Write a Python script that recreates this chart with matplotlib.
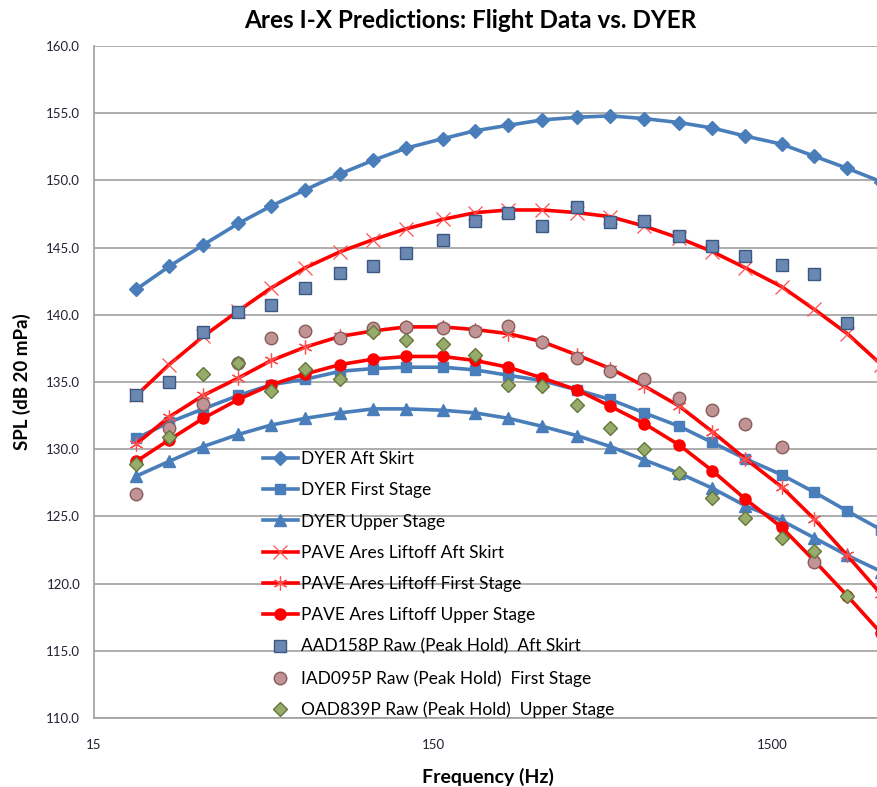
import matplotlib.pyplot as plt
from matplotlib.ticker import FixedLocator, FixedFormatter, NullLocator

plt.rcParams['font.family'] = ['Lato', 'DejaVu Sans']

# 1/3 octave band centre frequencies (Hz)
freq = [20, 25, 31.5, 40, 50, 63, 80, 100, 125, 160, 200, 250, 315, 400,
        500, 630, 800, 1000, 1250, 1600, 2000, 2500, 3150]

# DYER predictions
dyer_aft = [141.9, 143.6, 145.2, 146.8, 148.1, 149.3, 150.5, 151.5, 152.4, 153.1, 153.7, 154.1,
            154.5, 154.7, 154.8, 154.6, 154.3, 153.9, 153.3, 152.7, 151.8, 150.9, 149.9]
dyer_first = [130.8, 132.0, 133.0, 134.0, 134.8, 135.2, 135.8, 136.0, 136.1, 136.1, 135.9, 135.5,
              135.1, 134.4, 133.7, 132.7, 131.7, 130.5, 129.3, 128.1, 126.8, 125.4, 124.0]
dyer_upper = [128.0, 129.1, 130.2, 131.1, 131.8, 132.3, 132.7, 133.0, 133.0, 132.9, 132.7, 132.3,
              131.7, 131.0, 130.2, 129.2, 128.2, 127.1, 125.8, 124.7, 123.4, 122.1, 120.9]

# PAVE predictions
pave_aft = [134.0, 136.3, 138.4, 140.3, 142.0, 143.5, 144.7, 145.6, 146.4, 147.1, 147.6, 147.8,
            147.8, 147.6, 147.3, 146.6, 145.7, 144.7, 143.5, 142.1, 140.4, 138.6, 136.3]
pave_first = [130.4, 132.4, 134.0, 135.3, 136.6, 137.6, 138.4, 138.8, 139.1, 139.1, 138.9, 138.6,
              138.0, 137.0, 136.0, 134.7, 133.2, 131.3, 129.3, 127.2, 124.8, 122.1, 119.2]
pave_upper = [129.1, 130.7, 132.3, 133.7, 134.8, 135.6, 136.3, 136.7, 136.9, 136.9, 136.6, 136.1,
              135.3, 134.4, 133.2, 131.9, 130.3, 128.4, 126.3, 124.2, 121.7, 119.1, 116.3]

# flight data (peak hold)
aad158p = [134.0, 135.0, 138.7, 140.2, 140.7, 142.0, 143.1, 143.6, 144.6, 145.6, 147.0, 147.6,
           146.6, 148.0, 146.9, 147.0, 145.9, 145.1, 144.4, 143.7, 143.0, 139.4]
iad095p = [126.7, 131.6, 133.4, 136.4, 138.3, 138.8, 138.3, 139.0, 139.1, 139.0, 138.8, 139.2,
           138.0, 136.8, 135.8, 135.2, 133.8, 132.9, 131.9, 130.2, 121.6]
oad839p = [128.9, 130.9, 135.6, 136.4, 134.3, 136.0, 135.2, 138.7, 138.1, 137.8, 137.0, 134.8,
           134.7, 133.3, 131.6, 130.0, 128.2, 126.4, 124.9, 123.4, 122.4, 119.1]

x_ticks = [15, 150, 1500]
y_ticks = [110, 115, 120, 125, 130, 135, 140, 145, 150, 155, 160]

blue = '#4A7EBB'
red = '#FF0000'

fig = plt.figure(figsize=(8.78, 7.87), dpi=100)
ax = fig.add_axes([94 / 878, 1 - 718 / 787, 1 - 94 / 878, (718 - 46) / 787])

ax.plot(freq, dyer_aft, color=blue, lw=2.6, marker='D', ms=7, label='DYER Aft Skirt')
ax.plot(freq, dyer_first, color=blue, lw=2.6, marker='s', ms=7.5, label='DYER First Stage')
ax.plot(freq, dyer_upper, color=blue, lw=2.6, marker='^', ms=8, label='DYER Upper Stage')

ax.plot(freq, pave_aft, color=red, lw=2.6, marker='x', ms=10, mew=0.9, mec='#FF5050',
        label='PAVE Ares Liftoff Aft Skirt')
ax.plot(freq, pave_first, color=red, lw=2.6, marker=(6, 2, 0), ms=10, mew=0.9, mec='#FF5050',
        label='PAVE Ares Liftoff First Stage')
ax.plot(freq, pave_upper, color=red, lw=2.6, marker='o', ms=8, label='PAVE Ares Liftoff Upper Stage')

ax.plot(freq[:len(aad158p)], aad158p, ls='none', marker='s', ms=9, mfc='#6A88B2', mec='#3A5882',
        mew=1.0, label='AAD158P Raw (Peak Hold)  Aft Skirt')
ax.plot(freq[:len(iad095p)], iad095p, ls='none', marker='o', ms=9, mfc='#C09494', mec='#8A5C5C',
        mew=1.0, label='IAD095P Raw (Peak Hold)  First Stage')
ax.plot(freq[:len(oad839p)], oad839p, ls='none', marker='D', ms=7.5, mfc='#97AC6A', mec='#64783E',
        mew=1.0, label='OAD839P Raw (Peak Hold)  Upper Stage')

ax.set_xscale('log')
ax.set_xlim(15, 15 * 10 ** ((878 - 94) / 339))
ax.set_ylim(110, 160)
ax.xaxis.set_major_locator(FixedLocator(x_ticks))
ax.xaxis.set_major_formatter(FixedFormatter([str(t) for t in x_ticks]))
ax.xaxis.set_minor_locator(NullLocator())
ax.set_yticks(y_ticks)
ax.set_yticklabels([f'{t:.1f}' for t in y_ticks])
ax.tick_params(axis='both', length=0, labelsize=9.5, labelcolor='#222233')
ax.tick_params(axis='y', pad=10)
ax.tick_params(axis='x', pad=15)

ax.grid(axis='y', color='#A0A0A0', lw=1.2)
ax.set_axisbelow(True)
for side in ['top', 'right']:
    ax.spines[side].set_visible(False)
for side in ['left', 'bottom']:
    ax.spines[side].set_color('#A0A0A0')
    ax.spines[side].set_linewidth(1.2)

ax.set_xlabel('Frequency (Hz)', fontsize=14, fontweight='bold', va='center')
ax.xaxis.set_label_coords((488 - 94) / 784, (718 - 777) / 672)
ax.set_ylabel('SPL (dB 20 mPa)', fontsize=13.5, fontweight='bold', va='center')
ax.yaxis.set_label_coords((22 - 94) / 784, 0.5)
fig.suptitle('Ares I-X Predictions: Flight Data vs. DYER', x=470 / 878, y=1 - 20 / 787,
             va='center', fontsize=17.5, fontweight='bold')

ax.legend(loc='upper left', bbox_to_anchor=(263 / 878, 1 - 451 / 787),
          bbox_transform=fig.transFigure, frameon=False, fontsize=12.5,
          handlelength=2.0, handletextpad=0.2, labelspacing=0.88, borderpad=0, borderaxespad=0)

fig.savefig('out.png', dpi=100)
